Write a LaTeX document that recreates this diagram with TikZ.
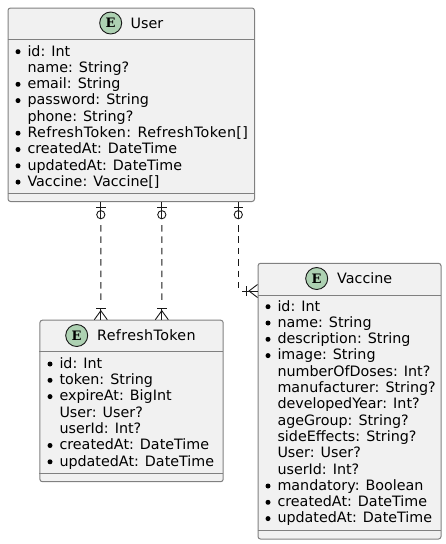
\documentclass[tikz,border=0pt]{standalone}
\usepackage{fontspec}
\setmainfont{DejaVu Sans}
\newfontfamily\slab{DejaVu Serif}
\newcommand\widerun[1]{{\addfontfeature{LetterSpace=2.4}#1}}
\definecolor{boxfill}{HTML}{F1F1F1}
\definecolor{boxline}{HTML}{808080}
\definecolor{badge}{HTML}{ADD1B2}
\definecolor{conn}{HTML}{181818}
\tikzset{
  x=1pt,y=-1pt,
  entity/.style={draw=boxline,fill=boxfill,line width=1pt,rounded corners=2.5pt,anchor=north west,inner sep=0pt,minimum width=#1},
  divider/.style={draw=boxline,line width=1pt},
  badgecirc/.style={circle,draw=conn,fill=badge,line width=.9pt,minimum size=22pt,inner sep=0pt,font=\slab\bfseries\fontsize{13}{13}\selectfont},
  title/.style={anchor=base west,inner sep=0pt,font=\fontsize{14.3}{16}\selectfont,text=black},
  field/.style={anchor=base west,inner sep=0pt,font=\fontsize{14.3}{16}\selectfont,text=black},
  dot/.style={circle,fill=black,inner sep=0pt,minimum size=5pt},
  rel/.style={draw=conn,line width=.9pt,dash pattern=on 6.5pt off 4.9pt},
  sym/.style={draw=conn,line width=.9pt},
}
\begin{document}
\begin{tikzpicture}
\useasboundingbox (0,0) rectangle (446,544);
% User
\node[entity=246.5pt,minimum height=193.5pt] (user) at (7.5,7.5) {};
\draw[divider] (7.5,39.5) -- (254,39.5);
\draw[divider] (7.5,193) -- (254,193);
\node[badgecirc] (ue) at (110.7,23) {E};
\node[title] (ut) at (130.5,28) {User};
\foreach \n/\t/\y/\d in {1/{id: Int}/56/1,2/{name: String?}/72.3/0,3/{email: String}/88.6/1,4/{password: String}/104.9/1,5/{phone: String?}/121.2/0,6/{\widerun{RefreshToken: RefreshToken[]}}/137.5/1,7/{createdAt: DateTime}/153.8/1,8/{updatedAt: DateTime}/170.1/1,9/{Vaccine: Vaccine[]}/186.4/1}{
  \node[field] (uf\n) at (27.3,\y) {\t};
  \ifnum\d=1 \node[dot] (ud\n) at (18,\y-4.3) {}; \fi
}
% RefreshToken
\node[entity=183.3pt,minimum height=161.5pt] (rt) at (39.4,319.7) {};
\draw[divider] (39.4,351.7) -- (222.7,351.7);
\draw[divider] (39.4,473.3) -- (222.7,473.3);
\node[badgecirc] (re) at (76.7,335.5) {E};
\node[title] (rtt) at (97,340.5) {\widerun{RefreshToken}};
\foreach \n/\t/\y/\d in {1/{id: Int}/368.3/1,2/{token: String}/384.6/1,3/{expireAt: BigInt}/400.9/1,4/{User: User?}/417.2/0,5/{userId: Int?}/433.5/0,6/{createdAt: DateTime}/449.8/1,7/{updatedAt: DateTime}/466.1/1}{
  \node[field] (rf\n) at (59.3,\y) {\t};
  \ifnum\d=1 \node[dot] (rd\n) at (50,\y-4.3) {}; \fi
}
% Vaccine
\node[entity=183pt,minimum height=275.7pt] (vac) at (257.5,262.8) {};
\draw[divider] (257.5,295) -- (440.5,295);
\draw[divider] (257.5,530.5) -- (440.5,530.5);
\node[badgecirc] (ve) at (316.7,278.5) {E};
\node[title] (vt) at (337,283.5) {Vaccine};
\foreach \n/\t/\y/\d in {1/{id: Int}/311/1,2/{name: String}/327.3/1,3/{description: String}/343.6/1,4/{image: String}/359.9/1,5/{numberOfDoses: Int?}/376.2/0,6/{manufacturer: String?}/392.5/0,7/{developedYear: Int?}/408.8/0,8/{ageGroup: String?}/425.1/0,9/{sideEffects: String?}/441.4/0,10/{User: User?}/457.7/0,11/{userId: Int?}/474/0,12/{mandatory: Boolean}/490.3/1,13/{createdAt: DateTime}/506.6/1,14/{updatedAt: DateTime}/522.9/1}{
  \node[field] (vf\n) at (277.3,\y) {\t};
  \ifnum\d=1 \node[dot] (vd\n) at (268,\y-4.3) {}; \fi
}
% connector ends
\path (user.south west) ++(93.3,0) coordinate (u1) ++(61,0) coordinate (u2) ++(76.5,0) coordinate (u3);
\path (rt.north west) ++(61.4,0) coordinate (r1) ++(61,0) coordinate (r2);
\path (vac.north west) ++(0,28.2) coordinate (v1);
% connectors
\draw[rel] (u1) ++(0,23) -- (r1 |- 0,301);
\draw[rel] (u2) ++(0,23) -- (r2 |- 0,301);
\draw[rel] (u3) ++(0,23) -- (u3 |- 0,288);
\foreach \c in {u1,u2,u3}{
  \draw[sym] (\c) -- ++(0,17);
  \draw[sym] (\c) ++(-4.8,5.3) -- ++(9.6,0);
  \draw[sym] (\c) ++(0,12.7) circle (4.1);
}
\foreach \c in {r1,r2}{
  \draw[sym] (\c) -- ++(0,-11);
  \draw[sym] (\c) ++(-4.8,-11) -- ++(9.6,0);
  \draw[sym] (\c) ++(-6.5,0) -- ++(6.5,-9) -- ++(6.5,9);
}
\draw[sym] (v1) -- ++(-16,0);
\draw[sym] (v1) ++(-11.3,-4.6) -- ++(0,9.2);
\draw[sym] (v1) ++(0,-6.5) -- ++(-8.5,6.5) -- ++(8.5,6.5);
\end{tikzpicture}
\end{document}
